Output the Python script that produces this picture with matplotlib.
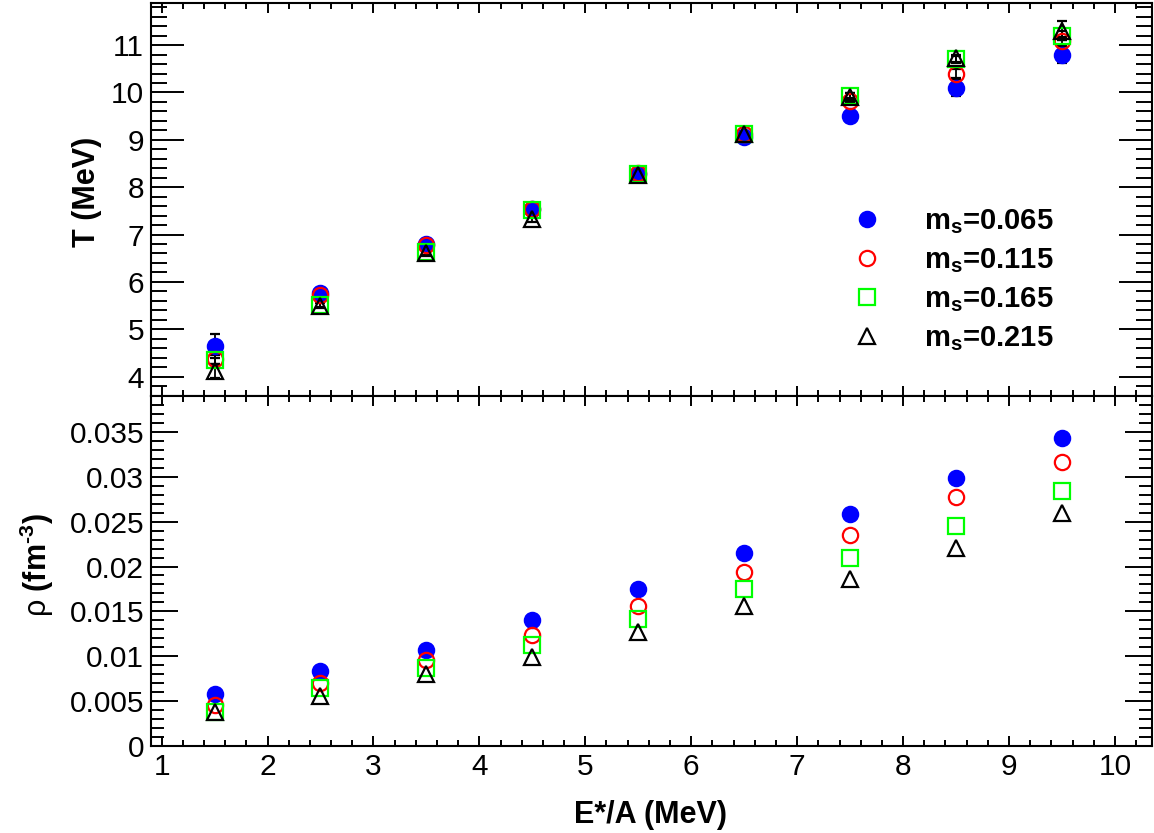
import matplotlib
matplotlib.use("Agg")
import matplotlib.pyplot as plt
from matplotlib.ticker import MultipleLocator

plt.rcParams["font.family"] = ["Liberation Sans", "DejaVu Sans"]
plt.rcParams["mathtext.fontset"] = "custom"
plt.rcParams["mathtext.rm"] = "Liberation Sans"
plt.rcParams["mathtext.bf"] = "Liberation Sans:bold"
plt.rcParams["mathtext.it"] = "Liberation Sans:italic"

# excitation energy per nucleon (MeV)
e_star = [1.5, 2.5, 3.5, 4.5, 5.5, 6.5, 7.5, 8.5, 9.5]

# temperature (MeV) for each m_s
t_065 = [4.65, 5.77, 6.80, 7.53, 8.28, 9.07, 9.50, 10.10, 10.80]
t_115 = [4.38, 5.72, 6.78, 7.53, 8.30, 9.12, 9.83, 10.40, 11.08]
t_165 = [4.35, 5.52, 6.63, 7.52, 8.28, 9.13, 9.92, 10.70, 11.20]
t_215 = [4.12, 5.50, 6.60, 7.32, 8.25, 9.12, 9.90, 10.72, 11.30]

t_err_065 = [0.25, 0.06, 0.06, 0.06, 0.06, 0.06, 0.08, 0.18, 0.18]
t_err_115 = [0.12, 0.06, 0.06, 0.06, 0.06, 0.06, 0.06, 0.10, 0.10]
t_err_165 = [0.10, 0.06, 0.06, 0.06, 0.06, 0.06, 0.06, 0.08, 0.10]
t_err_215 = [0.14, 0.06, 0.06, 0.06, 0.06, 0.06, 0.08, 0.08, 0.20]

# density (fm^-3) for each m_s
rho_065 = [0.00576, 0.00835, 0.0107, 0.0140, 0.0175, 0.0215, 0.0259, 0.0299, 0.0343]
rho_115 = [0.00457, 0.00698, 0.0096, 0.01236, 0.0156, 0.0194, 0.0235, 0.0278, 0.0316]
rho_165 = [0.00379, 0.00649, 0.0087, 0.0113, 0.0142, 0.01745, 0.0209, 0.0245, 0.0284]
rho_215 = [0.0038, 0.0056, 0.0080, 0.0099, 0.0127, 0.0156, 0.0186, 0.0221, 0.0260]

labels = ["0.065", "0.115", "0.165", "0.215"]

series = [
    (t_065, t_err_065, rho_065, dict(marker="o", mfc="#0000ff", mec="#0000ff")),
    (t_115, t_err_115, rho_115, dict(marker="o", mfc="none", mec="#ff0000")),
    (t_165, t_err_165, rho_165, dict(marker="s", mfc="none", mec="#00ff00")),
    (t_215, t_err_215, rho_215, dict(marker="^", mfc="none", mec="black")),
]

W, H = 1154, 833
fig = plt.figure(figsize=(W / 100, H / 100), dpi=100)
left, right = 151 / W, 1152 / W
ax_t = fig.add_axes([left, 1 - 396 / H, right - left, 393 / H])
ax_r = fig.add_axes([left, 1 - 746 / H, right - left, 350 / H])

handles = []
for (t, terr, rho, st), lab in zip(series, labels):
    ax_t.errorbar(e_star, t, yerr=terr, ls="none", marker=st["marker"], ms=11,
                  mfc=st["mfc"], mec=st["mec"], mew=1.6, ecolor="black",
                  elinewidth=1.3, capsize=3.5, capthick=1.3)
    ax_r.plot(e_star, rho, ls="none", marker=st["marker"], ms=11,
              mfc=st["mfc"], mec=st["mec"], mew=1.6)
    h, = ax_t.plot([], [], ls="none", marker=st["marker"], ms=11,
                   mfc=st["mfc"], mec=st["mec"], mew=1.6)
    handles.append(h)

for ax in (ax_t, ax_r):
    ax.set_xlim(0.9, 10.35)
    ax.xaxis.set_major_locator(MultipleLocator(1))
    ax.xaxis.set_minor_locator(MultipleLocator(0.2))
    for s in ax.spines.values():
        s.set_linewidth(1.5)
    ax.tick_params(which="both", direction="in", top=True, right=True, width=1.4,
                   labelsize=21.5, pad=5)
    ax.tick_params(axis="x", which="major", length=7.5)
    ax.tick_params(axis="x", which="minor", length=4)

ax_t.set_ylim(3.59, 11.89)
ax_t.yaxis.set_major_locator(MultipleLocator(1))
ax_t.yaxis.set_minor_locator(MultipleLocator(0.2))
ax_t.tick_params(axis="y", which="major", length=23.5)
ax_t.tick_params(axis="y", which="minor", length=11.5)
ax_t.tick_params(axis="x", labelbottom=False)

ax_r.set_ylim(0, 0.039)
ax_r.yaxis.set_major_locator(MultipleLocator(0.005))
ax_r.yaxis.set_minor_locator(MultipleLocator(0.001))
ax_r.tick_params(axis="y", which="major", length=19.5)
ax_r.tick_params(axis="y", which="minor", length=9.5)
ax_r.yaxis.set_major_formatter(plt.FuncFormatter(lambda v, p: f"{v:.3f}".rstrip("0").rstrip(".") if v else "0"))

fig.text(87 / W, 1 - 192 / H, "T (MeV)", rotation=90, ha="center", va="center",
         fontsize=22, fontweight="bold")
fig.text(37 / W, 1 - 565 / H, r"$\mathrm{\rho}$ (fm$^{\mathbf{" + "\u2010" + "3}}$)", rotation=90,
         ha="center", va="center", fontsize=22, fontweight="bold")
fig.text(651 / W, 1 - 815 / H, "E*/A (MeV)", ha="center", va="center",
         fontsize=22, fontweight="bold")

ax_t.legend(handles, [r"$\mathbf{m_{s}}$=" + l for l in labels], loc="upper left",
            bbox_to_anchor=(0.701, 0.48), frameon=False, borderpad=0, borderaxespad=0,
            handlelength=1.0, handletextpad=1.45, labelspacing=0.35,
            prop={"size": 21, "weight": "bold"})

fig.savefig("out.png", dpi=100)
